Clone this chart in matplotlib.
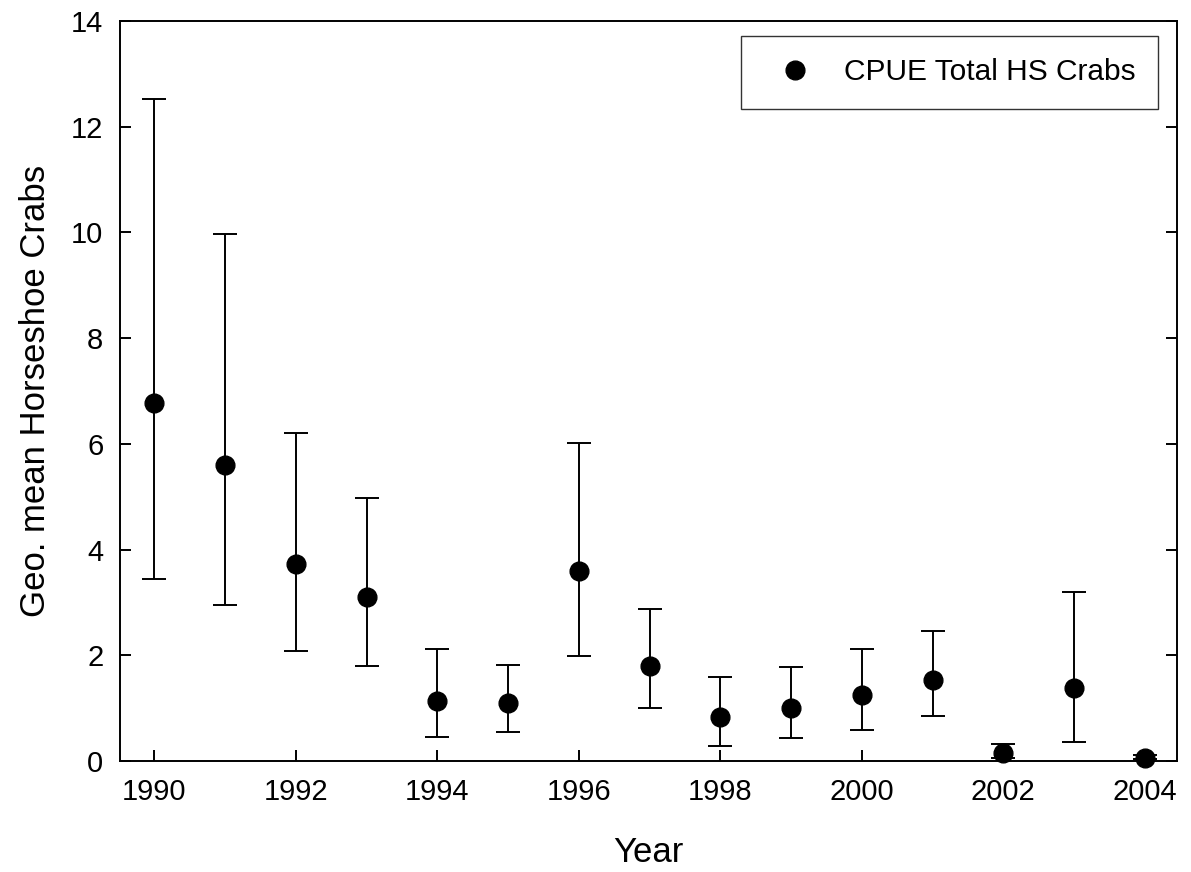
import numpy as np
import matplotlib.pyplot as plt
from matplotlib.lines import Line2D

plt.rcParams["font.family"] = ["Liberation Sans", "DejaVu Sans"]

years = [1990, 1991, 1992, 1993, 1994, 1995, 1996, 1997,
         1998, 1999, 2000, 2001, 2002, 2003, 2004]
cpue = [6.77, 5.60, 3.73, 3.10, 1.13, 1.10, 3.59, 1.80,
        0.83, 1.01, 1.24, 1.53, 0.16, 1.38, 0.06]
upper = [12.53, 9.97, 6.20, 4.98, 2.11, 1.82, 6.02, 2.88,
         1.58, 1.77, 2.12, 2.46, 0.33, 3.20, 0.12]
lower = [3.45, 2.96, 2.08, 1.80, 0.45, 0.55, 1.99, 1.00,
         0.29, 0.44, 0.59, 0.85, 0.05, 0.35, 0.03]

cpue = np.array(cpue)
yerr = [cpue - np.array(lower), np.array(upper) - cpue]

fig = plt.figure(figsize=(11.91, 8.72), dpi=100)
ax = fig.add_axes([0.1008, 0.1273, 0.8875, 0.8486])

ax.errorbar(years, cpue, yerr=yerr, fmt="o", color="black", ms=13.5,
            ecolor="black", elinewidth=1.4, capsize=8.3, capthick=1.4,
            clip_on=False, zorder=3)

ax.set_xlim(1989.515, 2004.455)
ax.set_ylim(0, 14)
ax.set_xticks(range(1990, 2005, 2))
ax.set_yticks(range(0, 15, 2))
ax.tick_params(axis="both", direction="in", length=8, width=1.4,
               labelsize=21, pad=12)
ax.tick_params(axis="y", right=True)
for s in ax.spines.values():
    s.set_linewidth(1.4)

ax.set_xlabel("Year", fontsize=25, labelpad=22)
ax.set_ylabel("Geo. mean Horseshoe Crabs", fontsize=25, labelpad=14)

# legend shows only the marker, no error bar
handle = Line2D([], [], marker="o", ls="none", color="black", ms=13.5)
leg = ax.legend([handle], ["CPUE Total HS Crabs"], loc="upper right",
                fontsize=21.5, frameon=True, fancybox=False, edgecolor="black",
                borderpad=0.75, handlelength=2.1, handletextpad=0.6,
                borderaxespad=0, bbox_to_anchor=(0.982, 0.98))
leg.get_frame().set_linewidth(1.0)

fig.savefig("out.png", dpi=100)
